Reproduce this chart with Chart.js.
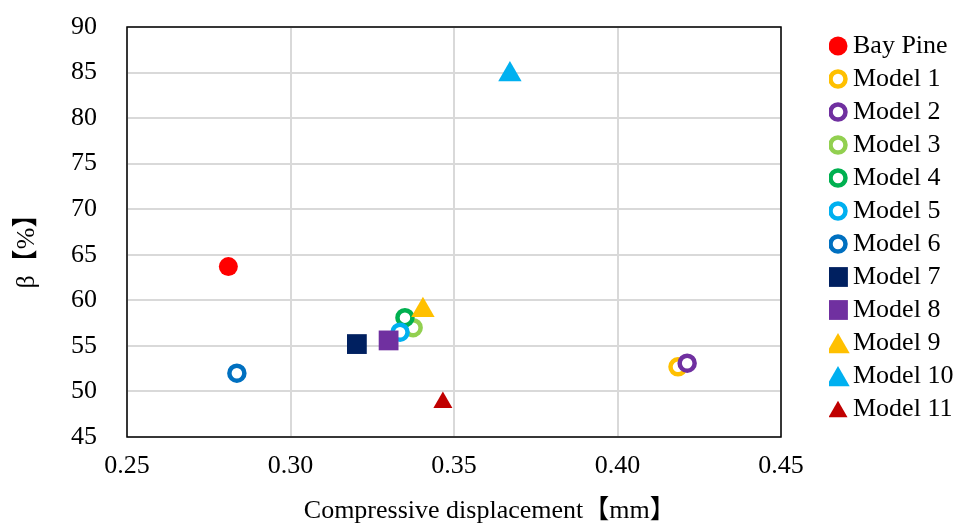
<!DOCTYPE html>
<html>
<head>
<meta charset="utf-8">
<script src="https://cdn.jsdelivr.net/npm/chart.js@4.4.1/dist/chart.umd.min.js"></script>
<style>
  html, body { margin: 0; padding: 0; background: #fff; }
  #wrap { width: 955px; height: 523px; }
</style>
</head>
<body>
<div id="wrap"><canvas id="grafico" width="955" height="523"></canvas></div>
<script>
// dados
const seriesNames = ['Bay Pine', 'Model 1', 'Model 2', 'Model 3', 'Model 4', 'Model 5',
  'Model 6', 'Model 7', 'Model 8', 'Model 9', 'Model 10', 'Model 11'];
const displacement = [0.281, 0.4185, 0.4213, 0.3375, 0.335, 0.3335, 0.2836, 0.3203, 0.3300, 0.3405, 0.3671, 0.3466];
const beta = [63.7, 52.7, 53.1, 57.0, 58.1, 56.5, 52.0, 55.2, 55.6, 58.9, 84.8, 48.8];
const xTicks = [0.25, 0.30, 0.35, 0.40, 0.45];
const yTicks = [45, 50, 55, 60, 65, 70, 75, 80, 85, 90];

// estilo dos marcadores
const markerColors = ['#FF0000', '#FFC000', '#7030A0', '#92D050', '#00B050', '#00B0F0',
  '#0070C0', '#002060', '#7030A0', '#FFC000', '#00B0F0', '#C00000'];
const markerShapes = ['circle', 'circle', 'circle', 'circle', 'circle', 'circle',
  'circle', 'rect', 'rect', 'triangle', 'triangle', 'triangle'];
const markerRadius = [9.5, 7.5, 7.5, 7.5, 7.5, 7.5, 7.5, 14, 14, 13.5, 13.5, 11];
const hollow = [false, true, true, true, true, true, true, false, false, false, false, false];

const fontFamily = "'Liberation Serif', 'Noto Sans CJK JP', serif";
Chart.defaults.font.family = fontFamily;
Chart.defaults.color = '#000';

// icones da legenda desenhados com o mesmo helper dos pontos
const markerIcons = seriesNames.map((_, i) => {
  const c = document.createElement('canvas');
  c.width = 34;
  c.height = 34;
  const g = c.getContext('2d');
  g.fillStyle = hollow[i] ? '#FFFFFF' : markerColors[i];
  g.strokeStyle = markerColors[i];
  const bw = hollow[i] ? 4.5 : 0;
  if (bw) g.lineWidth = bw;
  const dy = markerShapes[i] === 'triangle' ? markerRadius[i] * 0.25 : 0;
  Chart.helpers.drawPoint(g, {pointStyle: markerShapes[i], radius: markerRadius[i], borderWidth: bw, rotation: 0}, 17, 17 + dy);
  return c;
});

// moldura da area do grafico
const plotFrame = {
  id: 'plotFrame',
  beforeDatasetsDraw(chart) {
    const {ctx, chartArea: a} = chart;
    ctx.save();
    ctx.strokeStyle = '#000';
    ctx.lineWidth = 1.5;
    ctx.strokeRect(a.left, a.top, a.right - a.left, a.bottom - a.top);
    ctx.restore();
  }
};

const datasets = seriesNames.map((name, i) => ({
  label: name,
  data: [{x: displacement[i], y: beta[i]}],
  pointStyle: markerShapes[i],
  pointRadius: markerRadius[i],
  pointHoverRadius: markerRadius[i],
  backgroundColor: hollow[i] ? '#FFFFFF' : markerColors[i],
  borderColor: markerColors[i],
  pointBackgroundColor: hollow[i] ? '#FFFFFF' : markerColors[i],
  pointBorderColor: markerColors[i],
  pointBorderWidth: hollow[i] ? 4.5 : 0,
  order: -i
}));

new Chart(document.getElementById('grafico'), {
  type: 'scatter',
  data: {datasets},
  plugins: [plotFrame],
  options: {
    responsive: false,
    animation: false,
    devicePixelRatio: 1,
    layout: {padding: {top: 27, right: 0, bottom: 0, left: 0}},
    plugins: {
      tooltip: {enabled: false},
      legend: {
        position: 'right',
        align: 'start',
        maxWidth: 126,
        title: {display: true, text: ' ', font: {size: 1}, padding: {top: -2.2, bottom: 0}},
        labels: {
          usePointStyle: true,
          boxWidth: 4,
          padding: 7,
          font: {size: 26},
          sort: (a, b) => a.datasetIndex - b.datasetIndex,
          generateLabels: chart => {
            const items = Chart.defaults.plugins.legend.labels.generateLabels(chart);
            items.forEach(it => { it.pointStyle = markerIcons[it.datasetIndex]; });
            return items;
          }
        }
      }
    },
    scales: {
      x: {
        type: 'linear',
        min: xTicks[0],
        max: xTicks[xTicks.length - 1],
        afterBuildTicks: s => { s.ticks = xTicks.map(v => ({value: v})); },
        afterFit: s => { s.height = 86; },
        grid: {color: '#D9D9D9', lineWidth: 2, drawTicks: true, tickLength: 14, tickColor: 'rgba(0,0,0,0)'},
        border: {display: false},
        ticks: {padding: 0, font: {size: 26}, callback: v => Number(v).toFixed(2)},
        title: {display: true, text: '           Compressive displacement【mm】', font: {size: 26}, padding: {top: 12, bottom: -4}}
      },
      y: {
        type: 'linear',
        min: yTicks[0],
        max: yTicks[yTicks.length - 1],
        afterBuildTicks: s => { s.ticks = yTicks.map(v => ({value: v})); },
        afterFit: s => { s.width = 127; },
        grid: {color: '#D9D9D9', lineWidth: 2, drawTicks: true, tickLength: 30, tickColor: 'rgba(0,0,0,0)'},
        border: {display: false},
        ticks: {padding: 0, font: {size: 26}},
        title: {display: true, text: 'β【%】    ', font: {size: 26}, padding: {top: 12, bottom: 0}}
      },
      gap: {
        type: 'linear',
        position: 'right',
        display: true,
        afterFit: s => { s.width = 48; },
        grid: {display: false, drawTicks: false},
        border: {display: false},
        ticks: {display: false}
      }
    }
  }
});
</script>
</body>
</html>
